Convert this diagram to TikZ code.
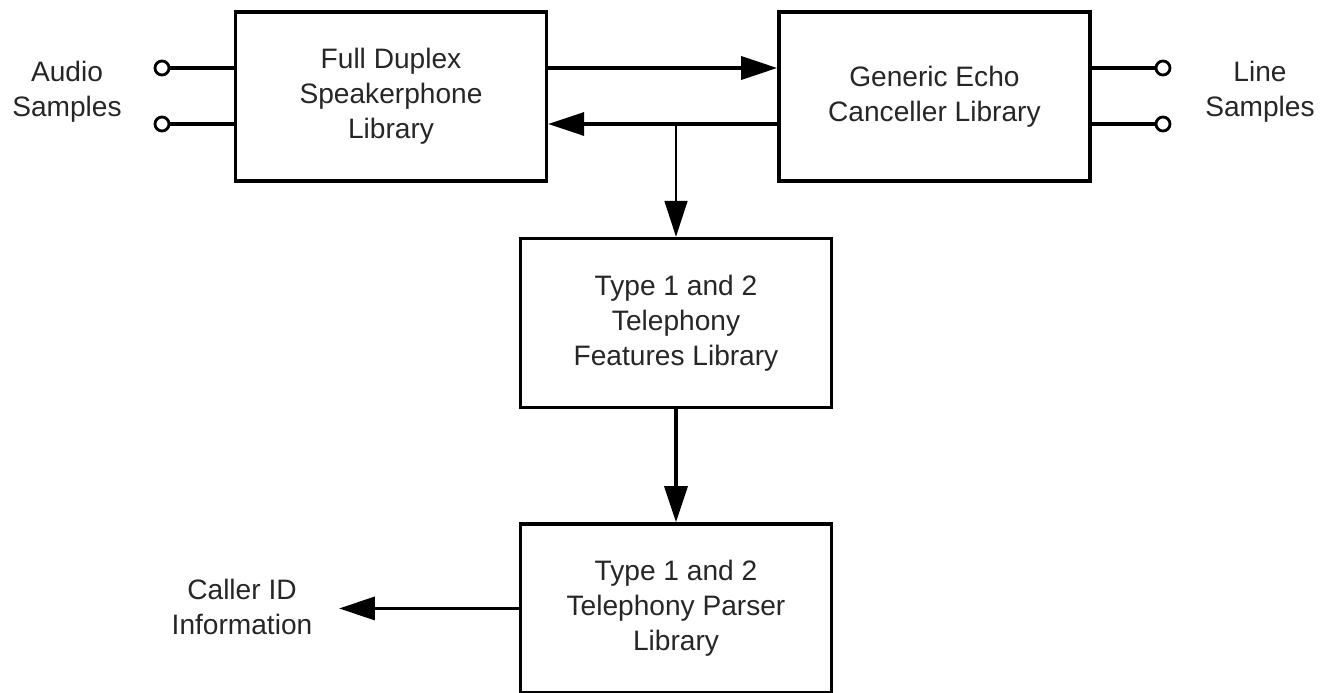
\documentclass[tikz,border=0pt]{standalone}
\usepackage{fontspec}
\setmainfont{Liberation Sans}
\usetikzlibrary{positioning,arrows.meta}

\begin{document}
\begin{tikzpicture}[
  x=0.02cm, y=-0.02cm,
  node distance=2.3cm,
  box/.style={draw, line width=2pt, align=center, minimum width=6.22cm,
              minimum height=3.38cm, inner sep=0pt, text=black!85,
              font=\fontsize{16}{20}\selectfont},
  arrow/.style={-{Triangle[length=0.72cm,width=0.46cm]}, line width=2pt},
  thinarrow/.style={arrow, line width=1pt},
  wire/.style={line width=2pt},
  port/.style={draw, circle, line width=1.6pt, minimum size=0.28cm, inner sep=0pt},
  txt/.style={align=center, text=black!85, font=\fontsize{16}{20}\selectfont}
]
\useasboundingbox (0,0) rectangle (1320,693);
% library blocks
\node[box] (fd) at (391,96.5) {Full Duplex\\Speakerphone\\Library};
\node[box, right=4.58cm of fd] (ec) {Generic Echo\\Canceller Library};
\node[box] (feat) at (676,323) {Type 1 and 2\\Telephony\\Features Library};
\node[box, below=2.26cm of feat] (pars) {Type 1 and 2\\Telephony Parser\\Library};
% signal levels and ports
\coordinate (hi) at (0,68);
\coordinate (lo) at (0,124);
\coordinate (cidin) at (339,0);
\node[port] (ai1) at (162,68) {};
\node[port] (ai2) at (162,124) {};
\node[port] (li1) at (1163,68) {};
\node[port] (li2) at (1163,124) {};
\node[txt] (aud) at (67,92) {Audio\\Samples};
\node[txt] (lin) at (1260,92) {Line\\Samples};
\node[txt] (cid) at (242,607) {Caller ID\\Information};
% connections
\draw[wire] (ai1) -- (fd.west |- ai1);
\draw[wire] (ai2) -- (fd.west |- ai2);
\draw[wire] (ec.east |- li1) -- (li1);
\draw[wire] (ec.east |- li2) -- (li2);
\draw[arrow] (fd.east |- hi) -- (ec.west |- hi);
\draw[arrow] (ec.west |- lo) -- (fd.east |- lo);
\draw[thinarrow] (feat.north |- lo) -- (feat.north);
\draw[arrow] (feat.south) -- (pars.north);
\draw[arrow] (pars.west) -- (pars.west -| cidin);
\end{tikzpicture}
\end{document}
